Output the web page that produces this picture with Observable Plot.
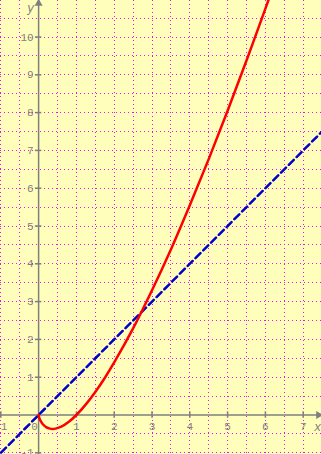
<!DOCTYPE html>
<html><head><meta charset="utf-8">
<script src="https://cdn.jsdelivr.net/npm/d3@7"></script>
<script src="https://cdn.jsdelivr.net/npm/@observablehq/plot@0.6"></script>
<style>body{margin:0;background:#fff;overflow:hidden}</style>
</head><body><div id="chart"></div>
<script>
// red curve, values
const curveX = [0, 0.02, 0.05, 0.1, 0.15, 0.2, 0.3, 0.37, 0.45, 0.6, 0.8, 1, 1.25, 1.5, 1.75, 2, 2.5, 3, 3.5, 4, 4.5, 5, 5.5, 6, 6.2];
const curveY = [0, -0.08, -0.15, -0.23, -0.28, -0.32, -0.36, -0.37, -0.36, -0.31, -0.18, 0, 0.28, 0.61, 0.98, 1.39, 2.29, 3.30, 4.38, 5.55, 6.77, 8.05, 9.38, 10.75, 11.31];
// blue dashed line
const lineX = [-1.2, 7.6];
const lineY = [-1.2, 7.6];
// ticks and grid
const xTicks = [-1, 1, 2, 3, 4, 5, 6, 7];
const yTicks = [-1, 1, 2, 3, 4, 5, 6, 7, 8, 9, 10];
const gridX = [-1, -0.5, 0.5, 1, 1.5, 2, 2.5, 3, 3.5, 4, 4.5, 5, 5.5, 6, 6.5, 7];
const gridY = [-1, -0.5, 0.5, 1, 1.5, 2, 2.5, 3, 3.5, 4, 4.5, 5, 5.5, 6, 6.5, 7, 7.5, 8, 8.5, 9, 9.5, 10, 10.5];

const curve = curveX.map((x, i) => ({x, y: curveY[i]}));
const line = lineX.map((x, i) => ({x, y: lineY[i]}));
const X0 = -1.008, X1 = 7.484, Y0 = -1.045, Y1 = 10.966;
const gray = "#7f7f7f";
const font = "Liberation Mono, DejaVu Sans Mono, monospace";
const gridStyle = {stroke: "#ff00ff", strokeWidth: 1, strokeDasharray: "1,3", shapeRendering: "crispEdges"};

const chart = Plot.plot({
  width: 321, height: 454,
  margin: 0,
  x: {domain: [X0, X1], axis: null},
  y: {domain: [Y0, Y1], axis: null},
  style: {background: "#ffffbb", fontFamily: font, fontSize: "11px", overflow: "hidden"},
  marks: [
    Plot.ruleX(gridX, {x: d => d, ...gridStyle}),
    Plot.ruleY(gridY, {y: d => d, ...gridStyle}),
    Plot.ruleY([0], {stroke: gray, strokeWidth: 1.5}),
    Plot.ruleX([0], {stroke: gray, strokeWidth: 1.5}),
    Plot.ruleX(xTicks, {x: d => d, y1: -0.085, y2: 0.085, stroke: gray, strokeWidth: 1.5}),
    Plot.ruleY(yTicks, {y: d => d, x1: -0.085, x2: 0.085, stroke: gray, strokeWidth: 1.5}),
    Plot.text(xTicks, {x: d => d, y: 0, text: d => String(d), dy: 11, fill: gray}),
    Plot.text([0], {x: 0, y: 0, text: d => String(d), dx: -4, dy: 11, fill: gray}),
    Plot.text(yTicks, {x: 0, y: d => d, text: d => String(d), textAnchor: "end", dx: -5, fill: gray}),
    Plot.dot([X1], {x: d => d, y: 0, symbol: "triangle", r: 3, fill: gray, rotate: 90, dx: -3}),
    Plot.dot([Y1], {x: 0, y: d => d, symbol: "triangle", r: 3, fill: gray, dy: 3}),
    Plot.text(["x"], {x: X1, y: 0, text: d => d, dx: -4, dy: 12, fill: gray, fontStyle: "italic", fontSize: 12}),
    Plot.text(["y"], {x: 0, y: Y1, text: d => d, dx: -8, dy: 8, fill: gray, fontStyle: "italic", fontSize: 12}),
    Plot.line(line, {x: "x", y: "y", stroke: "#0000cc", strokeWidth: 2.5, strokeDasharray: "7,4", clip: true}),
    Plot.line(curve, {x: "x", y: "y", stroke: "#ff0000", strokeWidth: 2.5, curve: "catmull-rom", clip: true})
  ]
});
document.getElementById("chart").appendChild(chart);
</script>
</body></html>
